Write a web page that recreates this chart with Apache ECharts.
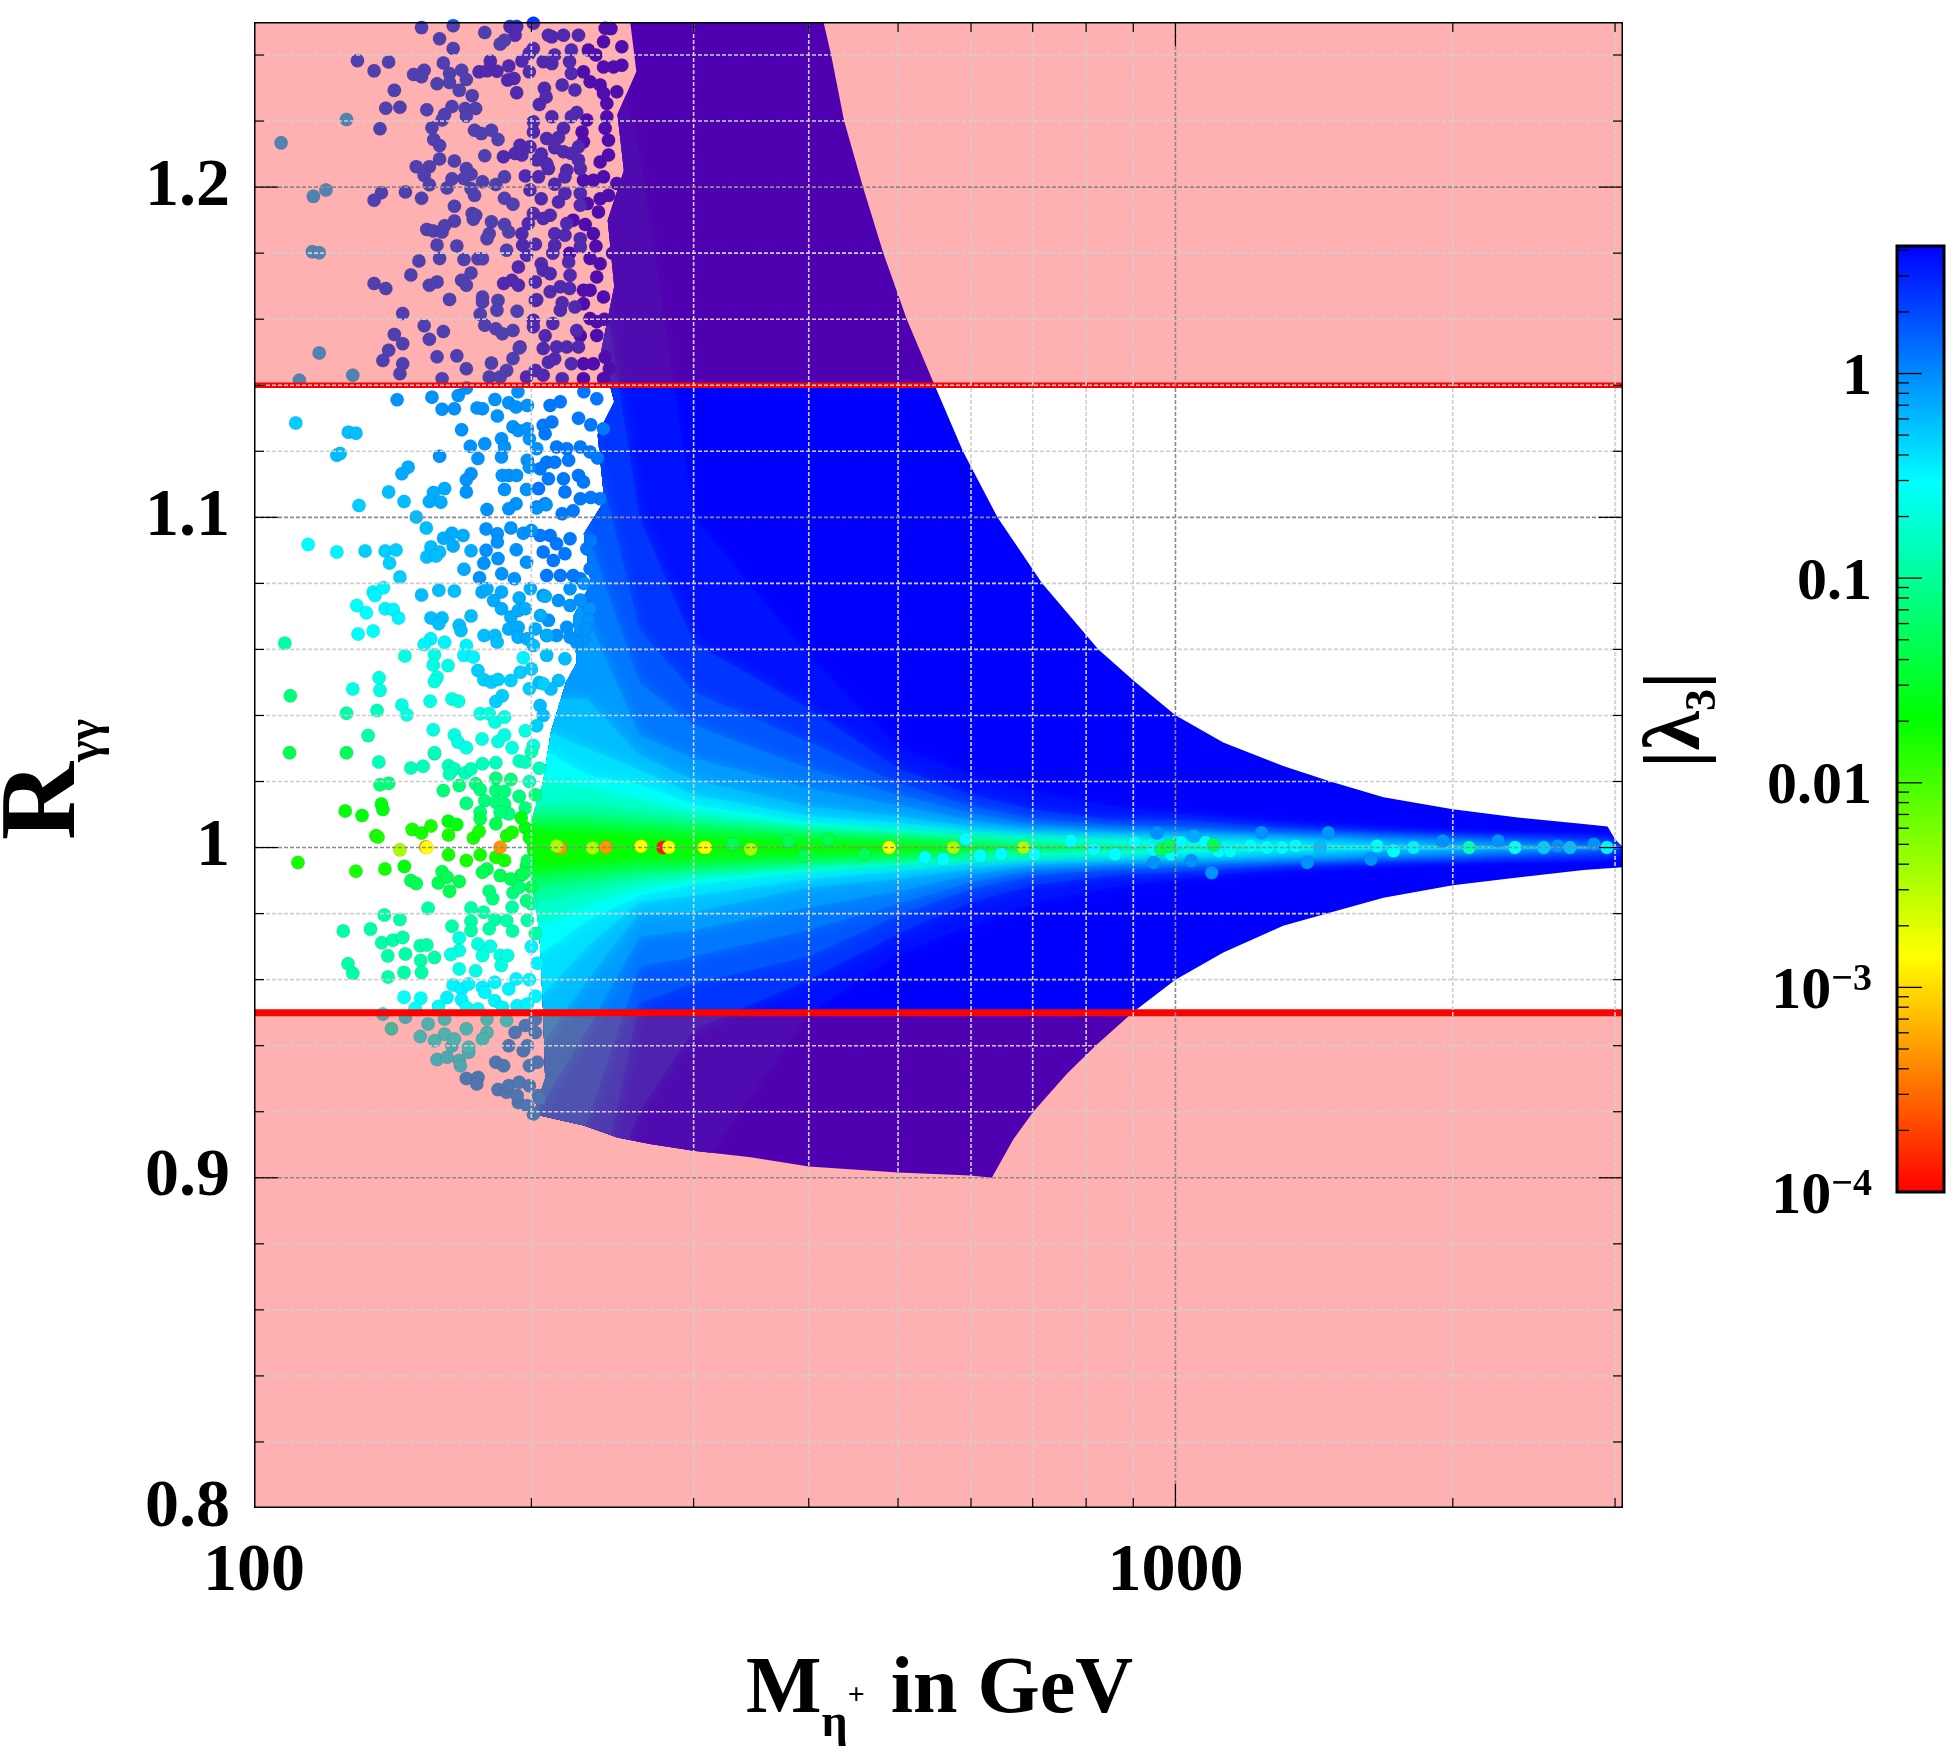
<!DOCTYPE html>
<html><head><meta charset="utf-8"><title>R_gammagamma scan</title>
<script src="https://cdn.jsdelivr.net/npm/echarts@6/dist/echarts.min.js"></script>
<style>html,body{margin:0;padding:0;background:#fff}#c{width:1959px;height:1749px}</style></head>
<body><div id="c"></div>
<script>
// ---------- axes ----------
const xLimits=[100,3060], yLimits=[0.8,1.25];
const xMajor=[1000], xMinor=[200,300,400,500,600,700,800,900,2000,3000];
const yMajor=[0.9,1,1.1,1.2];
const yMinor=[0.82,0.84,0.86,0.88,0.92,0.94,0.96,0.98,1.02,1.04,1.06,1.08,1.12,1.14,1.16,1.18,1.22,1.24];
const xLabels=[100,1000], yLabels=[0.8,0.9,1,1.1,1.2];
const excluded=[[1.14,1.25],[0.8,0.95]];
const limitsR=[[1.14,5.5],[0.95,7]];
const barMajor=[0.0001,0.001,0.01,0.1,1];
const barMinor=[0.0002,0.0003,0.0004,0.0005,0.0006,0.0007,0.0008,0.0009,0.002,0.003,0.004,0.005,0.006,0.007,0.008,0.009,0.02,0.03,0.04,0.05,0.06,0.07,0.08,0.09,0.2,0.3,0.4,0.5,0.6,0.7,0.8,0.9,2,3,4];
const lambdaMax=4.2, lambdaMin=0.0001;
// ---------- outline of the densely filled part of the scan ----------
const edgeLeft=[[201,0.9193],[207,0.93],[206,0.95],[204,0.975],[200,0.99],[198,1.0],[200,1.008],[206,1.02],[210,1.035],[218,1.05],[224,1.056],[222,1.07],[232,1.08],[228,1.095],[240,1.105],[236,1.125],[246,1.135],[238,1.15],[246,1.17],[242,1.19],[252,1.205],[248,1.222],[260,1.235],[256,1.25]];
const edgeUpper=[[415,1.25],[423,1.24],[437,1.22],[458,1.20],[482,1.18],[511,1.16],[546,1.141],[588,1.12],[641,1.10],[717,1.08],[825,1.06],[901,1.0505],[1000,1.0401],[1127,1.0318],[1309,1.0247],[1473,1.02],[1682,1.0152],[2000,1.0116],[2352,1.0091],[2773,1.0071],[2944,1.0064],[3000,1.0025],[3060,1.0]];
const edgeLower=[[228,0.9158],[248,0.9122],[269,0.9102],[300,0.9082],[346,0.9062],[400,0.9034],[500,0.9016],[599,0.9007],[632,0.90],[667,0.9117],[701,0.92],[763,0.9316],[819,0.94],[890,0.949],[908,0.951],[1000,0.96],[1127,0.9682],[1309,0.9763],[1473,0.9803],[1682,0.9848],[2000,0.9886],[2352,0.9909],[2773,0.9932],[3060,0.994]];
// ---------- |lambda3| contours: R-1 above and 1-R below at these masses ----------
const contourM=[180,205,230,262,300,400,500,600,700,850,1000,1300,1700,2200,3000];
const contourLambda=[3.5,2.45,1.71,1.2,0.835,0.583,0.41,0.285,0.182,0.116,0.074,0.048,0.03,0.0195];
const contourUp=[
[.3,.3,.28,.21,.1,.058,.03,.022,.017,.0125,.0105,.0075,.005,.003,.0012],
[.3,.26,.2,.1,.062,.042,.024,.016,.0115,.0085,.0085,.006,.004,.0023,.0009],
[.25,.2,.13,.066,.047,.032,.0195,.0125,.0088,.0068,.0063,.0042,.0028,.0016,.0006],
[.2,.13,.095,.05,.037,.024,.016,.0105,.007,.0055,.005,.0034,.002,.0012,.0004],
[.15,.09,.07,.034,.027,.018,.0128,.0082,.0055,.0043,.0037,.0025,.0014,.0008,.0003],
[.06,.045,.045,.028,.0205,.0125,.0095,.0062,.0042,.0032,.0027,.0018,.001,.0005,.0002],
[.04,.036,.03,.0235,.016,.0095,.0075,.005,.0034,.0026,.0021,.0012,.0006,.0003,.0001],
[.03,.03,.022,.019,.013,.0075,.0055,.0035,.0026,.0019,.0015,.0008,.0003,.0001],
[.02,.02,.018,.0145,.0105,.006,.0042,.0027,.0018,.0012,.0009,.0004],
[.0135,.0125,.013,.011,.0085,.005,.0033,.002,.0012,.0007,.0004],
[.01,.01,.0095,.0085,.007,.004,.0027,.0015,.0008,.0004],
[.0075,.0075,.0075,.0065,.0055,.003,.002,.001,.0005],
[.006,.006,.0055,.0045,.0038,.002,.0013,.0005],
[.0042,.0042,.004,.003,.0022,.0012,.0006]];
const contourDown=[
[.12,.12,.12,.1,.1,.05,.032,.0235,.017,.012,.0095,.0065,.0045,.0028,.0012],
[.12,.12,.12,.08,.055,.04,.026,.0165,.0115,.0085,.0075,.0052,.0035,.002,.0009],
[.12,.12,.12,.047,.041,.033,.0205,.0125,.0085,.0065,.006,.004,.0026,.0015,.0006],
[.12,.12,.083,.036,.033,.025,.017,.0105,.0068,.0052,.0047,.0032,.0019,.0011,.0004],
[.1,.078,.055,.027,.025,.018,.0132,.0082,.0053,.0041,.0035,.0024,.0013,.0007,.0003],
[.07,.06,.04,.02,.0195,.012,.0095,.0064,.0042,.0031,.0026,.0017,.0009,.0004,.0002],
[.05,.045,.03,.0165,.0145,.0095,.0072,.0048,.0033,.0025,.002,.0011,.0005,.0002,.0001],
[.035,.032,.022,.0145,.011,.0073,.0052,.0034,.0025,.0018,.0014,.0007,.0003,.0001],
[.025,.023,.017,.012,.009,.006,.0042,.0027,.0018,.0012,.0009,.0004],
[.017,.016,.013,.009,.0075,.005,.0033,.002,.0012,.0007,.0004],
[.012,.012,.01,.0073,.0062,.004,.0027,.0015,.0008,.0004],
[.009,.009,.0075,.006,.005,.003,.002,.001,.0005],
[.007,.007,.0055,.0045,.0036,.002,.0013,.0005],
[.005,.005,.004,.0025,.0022,.0012,.0006]];
// ---------- individually visible scan points [M, R], grouped by |lambda3| ----------
const dots34=[[230.6,1.2415],[227.8,1.2349],[231.6,1.2319],[237.5,1.2309],[239.5,1.2364],[245.6,1.2364],[239.5,1.2440],[240.5,1.2481],[247.6,1.2289],[241.5,1.2253],[239.5,1.2284],[250.7,1.2425],[250.7,1.2369],[229.7,1.2203],[227,1.2167],[227.8,1.2137],[240.5,1.2178],[241.5,1.2213],[237.5,1.2076],[242.5,1.2142],[242.5,1.2097],[227.8,1.2021],[233.5,1.2021],[239.5,1.2031],[237.5,1.1965],[242.5,1.1975],[247.6,1.2011],[228.8,1.1887],[236.5,1.1925],[233.5,1.1859],[235,1.1821],[231.6,1.1784],[237.5,1.1768],[235.5,1.1728],[227.8,1.1688],[231.6,1.1688],[239.5,1.1667],[227.8,1.1647],[235.5,1.1592],[231.6,1.1602],[235.5,1.1551],[240.5,1.1485],[227.8,1.1465],[233.5,1.1465],[227.8,1.1420],[239.5,1.1420],[244,1.248],[235,1.24],[222,1.19],[230,1.195],[245,1.18],[240,1.16],[243,1.145],[226,1.155],[220,1.18]];
const dots22=[[189.6,1.2486],[192,1.2460],[192.8,1.2486],[197,1.2501],[201,1.2496],[206,1.2501],[210.5,1.2455],[216.7,1.2460],[208.7,1.2460],[225,1.2460],[180.5,1.2382],[175.5,1.2349],[179,1.2352],[183.5,1.2351],[189,1.2367],[188.5,1.2324],[191.5,1.2329],[192.8,1.2286],[195.3,1.2382],[199,1.2349],[201,1.2420],[199,1.2405],[206.6,1.2299],[207.5,1.2273],[206,1.2380],[210.5,1.2374],[216,1.2309],[223,1.2294],[221,1.2344],[221,1.2415],[220,1.2380],[210.5,1.2213],[201,1.2198],[201,1.2167],[216.7,1.2178],[221,1.2213],[224,1.2226],[207.8,1.2147],[225,1.2122],[212,1.2119],[216.7,1.2107],[221,1.2102],[225,1.2082],[199.3,1.2122],[194.4,1.2127],[195.3,1.2097],[192,1.2102],[186.5,1.2092],[202.7,1.2082],[207.8,1.2071],[208.7,1.2056],[197,1.2034],[203.6,1.2031],[212,1.2009],[218.5,1.2051],[226,1.2056],[217.5,1.2031],[199.3,1.1991],[205,1.1965],[217.5,1.1981],[214,1.1955],[226,1.1981],[226,1.1945],[201,1.1920],[209.6,1.1915],[206,1.1905],[198.5,1.1890],[218.5,1.1890],[212,1.1859],[217.5,1.1854],[226,1.1844],[195.3,1.1859],[195.7,1.1824],[202,1.1827],[212,1.1824],[226,1.1819],[197.6,1.1794],[205,1.1768],[206,1.1748],[209.6,1.1738],[193.6,1.1758],[219.5,1.1773],[220.3,1.1733],[202,1.1713],[190.5,1.1718],[186.6,1.1708],[193.6,1.1703],[202,1.1657],[209.6,1.1683],[215,1.1698],[220,1.1693],[223,1.1637],[215,1.1627],[202.7,1.1659],[201,1.1597],[201,1.1577],[211,1.1587],[224,1.1566],[194.4,1.1516],[206,1.1511],[213,1.1516],[218.5,1.1516],[225,1.1516],[221,1.1465],[208.7,1.1470],[202,1.1445],[216,1.1420],[206,1.1430],[197.6,1.1425],[212,1.24],[204,1.225],[214,1.215],[205,1.21],[211,1.18],[216,1.165],[207,1.155],[212,1.148]];
const dots157=[[129.5,1.2383],[135,1.2352],[140,1.2379],[142,1.2293],[139,1.2239],[144,1.2242],[137,1.2177],[149,1.2341],[153,1.2354],[152,1.2334],[158,1.2313],[160.5,1.2376],[163,1.2344],[163,1.2317],[168,1.2354],[170,1.2326],[167,1.2293],[172.5,1.2277],[154,1.2234],[164,1.2244],[161,1.2220],[160,1.2203],[169.5,1.2238],[174,1.2238],[170,1.2215],[156,1.2180],[173.5,1.2172],[176.5,1.2162],[181,1.2172],[184,1.2144],[156.7,1.2144],[159,1.2126],[178,1.2095],[159,1.2085],[165,1.2079],[150,1.2062],[155,1.2062],[153,1.2035],[170,1.2056],[172,1.2039],[169,1.2026],[164,1.2025],[155,1.2007],[162,1.1997],[177,1.2016],[183,1.2008],[187,1.2031],[172,1.1996],[173.5,1.1975],[146,1.1985],[137.5,1.1983],[135,1.1960],[152,1.1966],[165,1.1942],[187,1.1966],[191,1.1948],[172.5,1.1920],[174,1.1915],[173,1.1903],[165,1.1897],[181,1.1895],[187,1.1887],[154,1.1872],[156.5,1.1867],[160,1.1864],[161,1.1883],[189,1.1864],[180,1.1859],[179,1.1844],[158,1.1825],[166,1.1822],[188,1.1809],[159,1.1784],[169,1.1781],[175,1.1783],[177,1.1783],[151,1.1776],[148,1.1734],[172,1.1740],[135,1.1708],[139,1.1693],[158,1.1713],[155,1.1703],[168,1.1718],[170,1.1703],[163,1.1660],[177,1.1667],[177,1.1652],[184,1.1657],[145,1.1617],[176,1.1615],[183.5,1.1627],[193,1.1624],[153,1.1580],[160.5,1.1563],[178,1.1582],[183,1.1571],[186,1.1556],[191,1.1566],[142,1.1554],[145,1.1526],[155,1.1539],[140,1.1506],[138,1.1475],[158,1.1486],[166,1.1489],[170,1.1450],[145,1.1465],[144,1.1435],[160,1.1420],[181,1.1467],[191,1.1481],[194,1.1513],[188,1.1445],[180,1.1425],[185,1.1425],[152,1.2483],[164.5,1.2489],[159,1.2449],[164.5,1.2420],[178,1.2468],[176,1.2501],[185,1.2433],[187,1.2445]];
const dots12=[[209.6,1.1339],[206,1.1279],[210.5,1.1289],[207,1.1253],[213,1.1213],[218.5,1.1208],[226,1.1213],[231.6,1.1198],[207.8,1.1167],[212,1.1167],[219.5,1.1173],[204.4,1.1147],[203.6,1.1087],[208.7,1.1117],[216.7,1.1117],[217.5,1.1077],[225,1.1127],[226,1.1056],[227.8,1.1107],[202.7,1.1031],[207,1.1041],[216,1.1011],[209.6,1.0945],[204.4,1.0945],[213,1.0920],[220.3,1.0935],[217.5,1.0890],[206,1.0895],[211.3,1.0869],[207.8,1.0824],[215,1.0824],[222,1.0824],[226,1.0814],[229.7,1.0905],[231.6,1.0844],[235.5,1.1359],[239.5,1.1268],[237.5,1.1056],[232,1.093],[215,1.135],[225,1.13],[228,1.138],[232,1.128],[236,1.118],[232,1.106],[222,1.102]];
const dots091=[[143,1.1356],[156,1.1364],[166.6,1.1369],[170,1.1392],[160,1.1327],[165,1.1329],[174.6,1.1331],[177,1.1329],[182.6,1.1357],[183.7,1.1307],[189,1.1347],[192.5,1.1334],[198,1.1339],[193.4,1.1380],[168,1.1265],[191,1.1274],[193.6,1.1263],[198,1.1268],[185.6,1.1238],[199,1.1238],[171.7,1.1215],[178,1.1223],[187,1.1213],[185.6,1.1183],[175,1.1178],[159,1.1185],[198,1.1173],[199,1.1152],[202.7,1.1208],[172,1.1132],[170,1.1114],[186,1.1127],[189,1.1127],[192.7,1.1127],[187,1.1084],[197.6,1.1084],[170,1.1077],[179,1.1024],[192.5,1.1041],[189,1.1026],[202.7,1.1028],[207.5,1.1038],[178.6,1.0965],[183.7,1.0950],[190,1.0968],[196,1.0952],[200,1.0960],[178.6,1.0900],[183.7,1.0925],[192.6,1.0902],[197.6,1.0864],[177.6,1.0861],[184,1.0875],[185.7,1.0829],[191.7,1.0814],[175.7,1.0817],[220.3,1.0784],[206,1.0763],[214,1.0748],[220.3,1.0733],[231.6,1.0723],[230.6,1.0688],[208.7,1.0688],[218.5,1.0667],[207.8,1.0642],[213,1.0642],[220.3,1.0637],[227.8,1.0632],[228,1.08],[226,1.075],[224,1.062],[229,1.066],[1040,0.996],[1095,0.9924],[1240,1.0045],[955,1.0045],[947,0.9955],[1390,0.9955],[1465,1.0045],[1630,0.9965],[1950,1.002],[2240,1.002],[2845,1.001],[2600,1.0005]];
const dots07=[[147,1.1152],[144.7,1.1132],[161,1.1087],[156.6,1.1075],[155,1.1048],[159.5,1.1046],[164,1.0952],[168.6,1.0945],[160.6,1.0937],[164.5,1.0913],[172,1.0899],[169,1.0843],[176.8,1.0774],[179,1.0784],[185.6,1.0774],[182,1.0748],[185.6,1.0723],[194,1.0756],[199.5,1.0784],[190,1.0698],[193.6,1.0718],[197,1.0723],[189,1.0662],[193.5,1.0667],[193.5,1.0637],[198,1.0632],[202,1.0662],[207,1.0761],[204.6,1.0703],[208,1.0642],[1047,1.0035],[170,0.9301],[175,0.9304],[174.5,0.9284],[184,0.9267],[183,0.935],[186.6,0.9339],[188,0.9259],[193.6,0.9228],[201,0.9193],[189,0.9279],[193,0.9249],[198,0.9218],[194,0.9289],[199,0.9279],[203.6,0.9249],[199,0.9339],[196,0.9385],[189,0.94],[192,0.944],[197,0.9461],[202,0.944],[198,0.94],[203,0.935],[204,0.924],[202,0.948]];
const dots058=[[107,1.2134],[116,1.1972],[119.7,1.1991],[115.7,1.1804],[117.7,1.1801],[117.7,1.1498],[112,1.1415],[128,1.1430],[126,1.2205],[140,1.1077],[145.5,1.1048],[150,1.1001],[153.8,1.0968],[155.6,1.0910],[159,1.0895],[154,1.0880],[157.6,1.0883],[126.6,1.1258],[129,1.1255],[123,1.1188],[124,1.1193],[152,1.0765],[158.7,1.0779],[165,1.0777],[155.6,1.0695],[160,1.0695],[158.7,1.0678],[172,1.0701],[167,1.0673],[167.7,1.0657],[201,1.0612],[207.8,1.0582],[217.5,1.0572],[214,1.0506],[204.4,1.0430],[177.7,1.0642],[182.6,1.0642],[183.6,1.0622],[210,1.048],[206,1.04],[204,1.05],[1436,1],[2680,1]];
const dots049=[[111,1.1286],[130,1.1036],[132,1.0898],[138.8,1.0898],[142.6,1.0901],[140.3,1.0862],[144,1.0819],[175,1.0536],[177.6,1.0508],[181,1.0501],[184,1.0509],[190,1.0506],[194.6,1.0531],[200,1.0541],[199,1.0481],[206,1.0496],[202.7,1.0369],[183,1.0442],[186,1.0460],[2510,1]];
const dots033=[[134.7,1.0774],[138.2,1.0787],[135.3,1.0763],[138.8,1.0723],[141.6,1.0721],[143.5,1.0695],[123,1.0895],[155.5,1.0632],[153,1.0615],[161,1.0622],[170,1.0612],[169,1.0582],[173,1.0577],[196,1.0575],[164.5,0.9584],[168,0.9572],[171,0.9587],[177,0.9577],[182.5,0.9592],[189,0.9572],[192.5,0.9602],[162,0.9546],[168,0.9539],[178,0.9562],[182.5,0.9536],[186,0.9516],[193,0.9521],[198,0.9526],[200,0.97],[203,0.965],[199,0.96],[202,0.955],[138,0.9496],[146,0.9486],[1813,1],[2940,1],[158,0.9358],[162,0.9365],[167,0.9355],[171,0.9380],[167.5,0.9339],[164,0.9400]];
const dots028=[[114.5,1.0918],[129.3,1.0733],[132.4,1.0711],[129.7,1.0647],[134.7,1.0656],[145.5,0.9547],[151.7,0.9544],[149.6,0.9513],[158.6,0.9519],[170,0.9516],[175,0.9511],[151.5,0.9428],[154.5,0.9466],[161,0.9481],[157,0.9415],[161,0.9435],[170,0.9451],[165,0.9420],[179,0.9440],[177,0.9420],[179,0.9481],[171,0.9395],[188,0.9476],[535,0.997],[560,0.9965],[592,1.0025],[614,0.9975],[647,0.998],[703,0.998],[770,1.002],[816,0.9995],[860,0.998],[903,1.0015],[945,0.9995],[1005,1.0015],[1012,1.0015],[990,0.998],[1078,1.0015],[1114,0.999],[1147,0.999],[1206,1.0005],[1257,1],[1305,1],[1350,1.0005],[1655,1.0005],[1725,0.999],[2336,1]];
const dots022=[[136.7,1.0514],[158,1.0516],[157,1.0503],[155.3,1.0443],[164,1.0450],[166.7,1.0443],[167,0.9726],[175,0.9708],[180.5,0.9701],[167,0.9688],[177,0.9673],[163.5,0.9676],[167,0.9632],[174,0.9627],[185,0.9673],[188.5,0.9673],[185.5,0.9643],[141,0.9451],[145.8,1.0580],[157,1.0584],[156.5,1.0553],[162.4,1.0551],[156.5,1.0357],[165,1.0341],[166.5,1.0319],[170,1.0302],[176.8,1.0329],[184,1.0321],[187,1.0341],[190.6,1.0302],[197,1.0354],[201,1.0309],[176,1.0405],[180,1.0405],[182.6,1.0380],[187,1.0395],[144.7,1.0432],[146.5,1.0402],[128,1.0480],[137,1.0476]];
const dots0145=[[136,1.0415],[136.6,1.0259],[148,1.0241],[152.6,1.0246],[157,1.0284],[162.6,1.0248],[165,1.0238],[163,1.0223],[169.5,1.0226],[172,1.0238],[177,1.0254],[183,1.0257],[194,1.0262],[197,1.0259],[157,1.0287],[200,1.029],[204,1.024],[199,1.02],[2083,1]];
const dots0116=[[108,1.0619],[126,1.0407],[133,1.0339],[125,0.9747],[133.8,0.9753],[137.6,0.9712],[141.5,0.9719],[145,0.9728],[139.7,0.9672],[146,0.9678],[151.5,0.9703],[154,0.9705],[151.7,0.9658],[157,0.9667],[126.5,0.9648],[128,0.9619],[139.8,0.9608],[145.5,0.9622],[152,0.9622],[154.5,0.9816],[190.6,0.9819],[172,0.9817],[177.5,0.9804],[172,0.9777],[182.6,0.9782],[188,0.9779],[164,0.9762],[172,0.9749],[180,0.9754],[190.8,0.9747],[138.5,0.9796],[144,0.9782],[200,0.983],[198,0.978],[202,0.974]];
const dots0074=[[109.5,1.0460],[137,1.0190],[140,1.0195],[160.5,1.0173],[167,1.0188],[174,1.0193],[176,1.0176],[183,1.0210],[190,1.0206],[183,1.0173],[187,1.0170],[194,1.0155],[170,1.0134],[178,1.0142],[183,1.0137],[187,1.0132],[176,1.0107],[189,1.0102],[185,1.0107],[180,0.9868],[181.6,0.9845],[191,0.9863],[194,0.9880],[197.6,0.9839],[202,1.016],[197,1.012]];
const dots0048=[[109.3,1.0287],[126,1.0287],[176,1.0087],[183,1.0072],[148,0.9900],[150,0.9891],[158.5,0.9893],[160,0.9927],[162,0.9910],[167,0.9897],[163,0.9868],[179,0.9935],[177,0.9925],[185,0.9915],[190,0.9905],[195,0.9917],[197.6,0.9945],[198,0.996],[196,0.992],[200,0.988],[965,0.9995],[985,1.0005],[1100,1.0008],[331,1.001],[380,1.002],[420,1.0025],[395,0.9975],[460,0.998]];
const dots0024=[[125.6,1.0111],[131,1.0097],[137.5,1.0132],[138,1.0115],[162.5,1.0080],[166,1.0070],[145.6,0.9943],[197,1.006],[199,1.003],[195,1.009]];
const dots0165=[[148.5,1.0055],[152,1.0044],[155.6,1.0065],[135.6,1.0036],[136.3,1.0032],[162.6,1.0038],[173,1.0029],[175.5,1.0049],[188,1.0036],[190.6,1.0046],[162.6,0.9978],[170,0.9961],[176,0.9978],[183,0.9971],[187,0.9961],[129,0.9928],[138.7,0.9935],[111.6,0.9955]];
const dots0035=[[144,0.9993],[346,0.9995],[574,1.0],[684,1.0],[213,1.0005],[233,0.9999]];
const dots00143=[[154,1.0],[263,1.0004],[282,1.0001],[308,1.0],[309,1.0],[489,1.0]];
const dots00048=[[153.6,1.0002],[185,1.0001],[215,0.9999],[241,1.0001]];
const dots000125=[[278,1.0]];
const dotGroups=[[3.4,dots34],[2.2,dots22],[1.57,dots157],[1.2,dots12],[0.91,dots091],[0.7,dots07],[0.58,dots058],[0.49,dots049],[0.33,dots033],[0.28,dots028],[0.22,dots022],[0.145,dots0145],[0.116,dots0116],[0.074,dots0074],[0.048,dots0048],[0.024,dots0024],[0.0165,dots0165],[0.00048,dots00048],[0.000125,dots000125],[0.0035,dots0035],[0.00143,dots00143]];

const SERIF='"Liberation Serif","Times New Roman",serif';
const dotData=[];
dotGroups.forEach(g=>g[1].forEach(p=>dotData.push([p[0],p[1],Math.log10(g[0])])));
const contourData=contourLambda.map(l=>[1000,1,Math.log10(l)]);
const outline=edgeLeft.concat(edgeUpper,edgeLower.slice().reverse());

function renderOutline(params,api){
  return {type:'polygon',shape:{points:outline.map(p=>api.coord(p))},style:{fill:api.visual('color')}};
}
function renderContour(params,api){
  const i=params.dataIndex,up=contourUp[i],dn=contourDown[i],n=up.length;
  const tipM=n<contourM.length?contourM[n]:xLimits[1];
  const pts=[];
  for(let k=0;k<n;k++)pts.push(api.coord([contourM[k],1+up[k]]));
  pts.push(api.coord([tipM,1]));
  for(let k=n-1;k>=0;k--)pts.push(api.coord([contourM[k],1-dn[k]]));
  const c=api.visual('color');
  return {type:'polygon',shape:{points:pts},style:{fill:c,shadowBlur:14,shadowColor:c},
    clipPath:{type:'polygon',shape:{points:outline.map(p=>api.coord(p))}}};
}
function renderBand(params,api){
  const a=api.coord([xLimits[0],api.value(1)]),b=api.coord([xLimits[1],api.value(0)]);
  return {type:'rect',shape:{x:a[0],y:b[1],width:b[0]-a[0],height:a[1]-b[1]},style:{fill:'rgba(255,0,0,0.31)'}};
}
function renderLimit(params,api){
  const a=api.coord([xLimits[0],api.value(0)]),b=api.coord([xLimits[1],api.value(0)]);
  return {type:'line',shape:{x1:a[0],y1:a[1],x2:b[0],y2:b[1]},style:{stroke:'#ff0000',lineWidth:api.value(1)}};
}
function gridLine(color){return function(params,api){
  const cs=params.coordSys,v=api.value(0);
  if(api.value(1)===0){const p=api.coord([v,1]);
    return {type:'line',shape:{x1:p[0],y1:cs.y,x2:p[0],y2:cs.y+cs.height},style:{stroke:color,lineWidth:1.6,lineDash:[4,2]}};}
  const p=api.coord([100,v]);
  return {type:'line',shape:{x1:cs.x,y1:p[1],x2:cs.x+cs.width,y2:p[1]},style:{stroke:color,lineWidth:1.6,lineDash:[4,2]}};
};}
function tickMark(len){return function(params,api){
  const cs=params.coordSys,v=api.value(0),s={stroke:'#000',lineWidth:1.2};
  if(api.value(1)===0){const p=api.coord([v,1]);
    return {type:'group',children:[
      {type:'line',shape:{x1:p[0],y1:cs.y,x2:p[0],y2:cs.y+len},style:s},
      {type:'line',shape:{x1:p[0],y1:cs.y+cs.height,x2:p[0],y2:cs.y+cs.height-len},style:s}]};}
  const p=api.coord([100,v]);
  return {type:'group',children:[
    {type:'line',shape:{x1:cs.x,y1:p[1],x2:cs.x+len,y2:p[1]},style:s},
    {type:'line',shape:{x1:cs.x+cs.width,y1:p[1],x2:cs.x+cs.width-len,y2:p[1]},style:s}]};
};}
function renderFrame(params){
  const cs=params.coordSys;
  return {type:'rect',shape:{x:cs.x,y:cs.y,width:cs.width,height:cs.height},style:{fill:'none',stroke:'#000',lineWidth:3}};
}
function barTick(len){return function(params,api){
  const cs=params.coordSys,p=api.coord([0.5,api.value(1)]);
  return {type:'line',shape:{x1:cs.x,y1:p[1],x2:cs.x+len,y2:p[1]},style:{stroke:'#000',lineWidth:1.3}};
};}
const lineSeries=(render,data,z)=>({type:'custom',xAxisIndex:0,yAxisIndex:0,renderItem:render,data:data,z:z,silent:true,clip:true,animation:false,encode:{x:0,y:1}});
const xPairs=a=>a.map(v=>[v,0]), yPairs=a=>a.map(v=>[v,1]);

const chart=echarts.init(document.getElementById('c'),null,{renderer:'canvas'});
chart.setOption({
  animation:false,backgroundColor:'#fff',
  grid:[{left:254,top:22,width:1369,height:1486},{left:1897,top:246,width:47,height:946}],
  xAxis:[
    {type:'log',logBase:10,min:xLimits[0],max:xLimits[1],gridIndex:0,splitLine:{show:false},minorSplitLine:{show:false},axisLine:{show:false},axisTick:{show:false},
     axisLabel:{customValues:xLabels,margin:30,color:'#000',fontFamily:SERIF,fontWeight:'bold',fontSize:68,formatter:v=>String(Math.round(v))}},
    {type:'value',min:0,max:1,gridIndex:1,show:false}],
  yAxis:[
    {type:'value',min:yLimits[0],max:yLimits[1],gridIndex:0,splitLine:{show:false},axisLine:{show:false},axisTick:{show:false},
     axisLabel:{customValues:yLabels,margin:24,color:'#000',fontFamily:SERIF,fontWeight:'bold',fontSize:68,padding:[14,0,0,0],formatter:v=>String(+v.toFixed(1))}},
    {type:'log',logBase:10,min:lambdaMin,max:lambdaMax,gridIndex:1,splitLine:{show:false},axisLine:{show:false},axisTick:{show:false},
     axisLabel:{customValues:barMajor,margin:25,color:'#000',padding:[10,0,0,0],
       formatter:v=>v>=0.005?('{n|'+(v>=0.5?'1':v>=0.05?'0.1':'0.01')+'}'):('{n|10}{s|\u2212'+(v>=0.0005?'3':'4')+'}'),
       rich:{n:{fontFamily:SERIF,fontWeight:'bold',fontSize:60,color:'#000'},s:{fontFamily:SERIF,fontWeight:'bold',fontSize:38,color:'#000',padding:[0,0,24,0]}}}}],
  visualMap:[{type:'continuous',min:Math.log10(lambdaMin),max:Math.log10(lambdaMax),dimension:2,seriesIndex:[0,1,2],
    left:1897,top:246,itemWidth:47,itemHeight:946,padding:0,calculable:false,hoverLink:false,text:null,
    inRange:{color:['#ff0000','#ffff00','#00ff00','#00ffff','#0000ff']}}],
  graphic:[
    {type:'text',left:746,top:1651,z:20,style:{text:'{a|M}{b|\u03b7}{c|+}{a| in GeV}',rich:{
      a:{fontFamily:SERIF,fontWeight:'bold',fontSize:80,fill:'#000',verticalAlign:'bottom'},
      b:{fontFamily:SERIF,fontWeight:'bold',fontSize:46,fill:'#000',verticalAlign:'bottom',padding:[0,0,-16,0]},
      c:{fontFamily:SERIF,fontWeight:'bold',fontSize:30,fill:'#000',verticalAlign:'bottom',padding:[0,6,20,0]}}}},
    {type:'text',x:100,y:840,rotation:Math.PI/2,z:20,style:{text:'{a|R}{b|\u03b3\u03b3}',align:'left',verticalAlign:'bottom',rich:{
      a:{fontFamily:SERIF,fontWeight:'bold',fontSize:108,fill:'#000',verticalAlign:'bottom'},
      b:{fontFamily:SERIF,fontWeight:'bold',fontSize:46,fill:'#000',verticalAlign:'bottom',padding:[0,0,-10,0]}}}},
    {type:'text',x:1718,y:768,rotation:Math.PI/2,z:20,style:{text:'{a||\u03bb}{b|3}{a||}',align:'left',verticalAlign:'bottom',rich:{
      a:{fontFamily:SERIF,fontWeight:'bold',fontSize:80,fill:'#000',verticalAlign:'bottom'},
      b:{fontFamily:SERIF,fontWeight:'bold',fontSize:44,fill:'#000',verticalAlign:'bottom',padding:[0,0,-8,0]}}}}
  ],
  series:[
    {type:'custom',xAxisIndex:0,yAxisIndex:0,renderItem:renderOutline,data:[[1000,1,Math.log10(lambdaMax)]],z:1,silent:true,animation:false,encode:{x:0,y:1}},
    {type:'custom',xAxisIndex:0,yAxisIndex:0,renderItem:renderContour,data:contourData,z:1,silent:true,animation:false,encode:{x:0,y:1}},
    {type:'scatter',xAxisIndex:0,yAxisIndex:0,data:dotData,symbolSize:13.5,z:2,silent:true,animation:false,clip:true,encode:{x:0,y:1},
     itemStyle:{opacity:1,borderColor:'rgba(0,0,0,0.15)',borderWidth:0.6}},
    lineSeries(renderBand,excluded,3),
    lineSeries(renderLimit,limitsR,4),
    lineSeries(gridLine('#cfcfcf'),xPairs(xMinor).concat(yPairs(yMinor)),5),
    lineSeries(gridLine('#8a8a8a'),xPairs(xMajor).concat(yPairs(yMajor)),5),
    lineSeries(tickMark(10),xPairs(xMinor).concat(yPairs(yMinor)),6),
    lineSeries(tickMark(24),xPairs(xMajor).concat(yPairs(yMajor)),6),
    lineSeries(renderFrame,[[100,1]],7),
    {type:'custom',xAxisIndex:1,yAxisIndex:1,renderItem:barTick(12),data:barMinor.map(v=>[0.5,v]),z:10,silent:true,animation:false,encode:{x:0,y:1}},
    {type:'custom',xAxisIndex:1,yAxisIndex:1,renderItem:barTick(25),data:barMajor.map(v=>[0.5,v]),z:10,silent:true,animation:false,encode:{x:0,y:1}},
    {type:'custom',xAxisIndex:1,yAxisIndex:1,renderItem:renderFrame,data:[[0.5,1]],z:11,silent:true,animation:false,encode:{x:0,y:1}}
  ]
});
</script></body></html>
